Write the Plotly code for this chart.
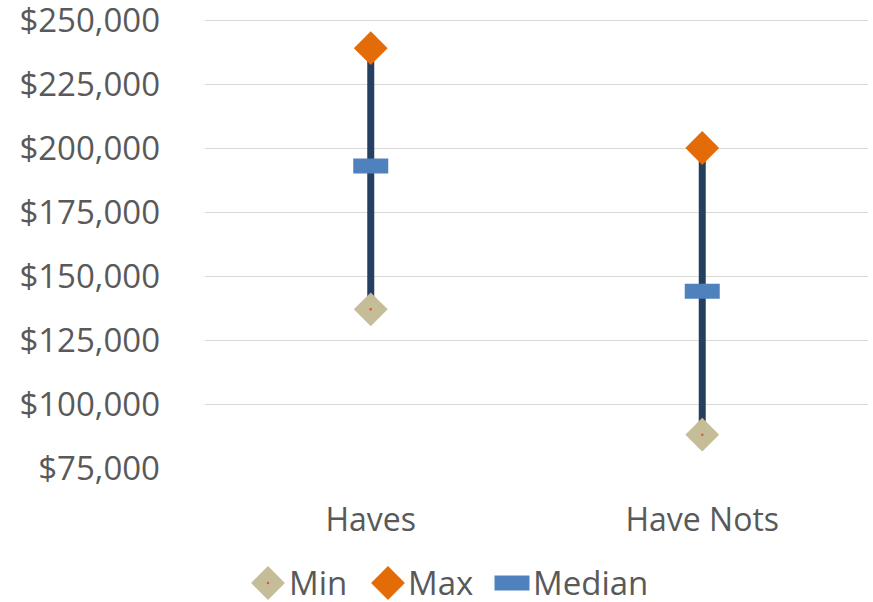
import plotly.graph_objects as go

# Salary ranges by group
categories = ["Haves", "Have Nots"]
min_values = [137000, 88000]
max_values = [239000, 200000]
median_values = [193000, 144000]

y_tickvals = [75000, 100000, 125000, 150000, 175000, 200000, 225000, 250000]
y_ticktext = ["$75,000", "$100,000", "$125,000", "$150,000", "$175,000",
              "$200,000", "$225,000", "$250,000"]

series_names = ["Min", "Max", "Median"]

W, H = 873, 602
FONT = "Open Sans"
TEXT_COLOR = "#595959"
MIN_COLOR = "#C4BD97"
MAX_COLOR = "#E36C09"
MED_COLOR = "#4F81BD"
BAR_COLOR = "#243F60"
DOT_COLOR = "#E8513C"

# value axis limits: a little headroom above the top gridline
Y_MIN, Y_MAX = 75000, 251000

# plot area and legend placement (pixels)
PLOT_L, PLOT_R, PLOT_B = 205, 868, 468
PX_PER_UNIT = 448 / (250000 - 75000)
PLOT_T = PLOT_B - (Y_MAX - Y_MIN) * PX_PER_UNIT
LEGEND_Y = 582
LEGEND_ICON_X = [268, 388, 512]
LEGEND_TEXT_X = [287, 406, 531]

diamond = dict(symbol="diamond", size=26, line=dict(width=0))
median_mark = dict(symbol="line-ew", size=25, line=dict(color=MED_COLOR, width=15))

fig = go.Figure()

# range bars from min to max
for cat, lo, hi in zip(categories, min_values, max_values):
    fig.add_trace(go.Scatter(
        x=[cat, cat], y=[lo, hi], mode="lines",
        line=dict(color=BAR_COLOR, width=7),
        showlegend=False, hoverinfo="skip",
    ))

fig.add_trace(go.Scatter(
    x=categories, y=min_values, mode="markers", name="Min", showlegend=False,
    marker=dict(diamond, color=MIN_COLOR),
))
fig.add_trace(go.Scatter(
    x=categories, y=min_values, mode="markers", showlegend=False,
    hoverinfo="skip", marker=dict(symbol="circle", size=2.5, color=DOT_COLOR),
))
fig.add_trace(go.Scatter(
    x=categories, y=max_values, mode="markers", name="Max", showlegend=False,
    marker=dict(diamond, color=MAX_COLOR),
))
fig.add_trace(go.Scatter(
    x=categories, y=median_values, mode="markers", name="Median",
    showlegend=False, marker=median_mark,
))

# legend keys, drawn on a pixel-scaled overlay axis
leg_y = [LEGEND_Y + 1] * 3
fig.add_trace(go.Scatter(
    x=LEGEND_ICON_X[:2], y=leg_y[:2], mode="markers", xaxis="x2", yaxis="y2",
    showlegend=False, hoverinfo="skip",
    marker=dict(diamond, color=[MIN_COLOR, MAX_COLOR]),
))
fig.add_trace(go.Scatter(
    x=LEGEND_ICON_X[:1], y=leg_y[:1], mode="markers", xaxis="x2", yaxis="y2",
    showlegend=False, hoverinfo="skip",
    marker=dict(symbol="circle", size=2.5, color=DOT_COLOR),
))
fig.add_trace(go.Scatter(
    x=LEGEND_ICON_X[2:], y=leg_y[2:], mode="markers", xaxis="x2", yaxis="y2",
    showlegend=False, hoverinfo="skip", marker=median_mark,
))

annotations = [
    dict(text=name, x=tx / W, y=1 - LEGEND_Y / H, xref="paper", yref="paper",
         xanchor="left", yanchor="middle", showarrow=False,
         font=dict(family=FONT, size=33, color=TEXT_COLOR))
    for name, tx in zip(series_names, LEGEND_TEXT_X)
]

fig.update_layout(
    width=W, height=H,
    margin=dict(l=0, r=0, t=0, b=0, autoexpand=False),
    plot_bgcolor="rgba(0,0,0,0)", paper_bgcolor="white",
    font=dict(family=FONT, size=32, color=TEXT_COLOR),
    showlegend=False,
    annotations=annotations,
    xaxis=dict(
        type="category", range=[-0.5, 1.5],
        domain=[PLOT_L / W, PLOT_R / W],
        showgrid=False, showline=False, zeroline=False,
        ticks="", ticklabelstandoff=30,
        tickfont=dict(size=32, color=TEXT_COLOR),
    ),
    yaxis=dict(
        range=[Y_MIN, Y_MAX], tickvals=y_tickvals, ticktext=y_ticktext,
        domain=[1 - PLOT_B / H, 1 - PLOT_T / H],
        showgrid=True, gridcolor="#D9D9D9", gridwidth=1,
        zeroline=False, showline=False, ticks="",
        ticklabelstandoff=44, ticklabeloverflow="allow",
        tickfont=dict(size=33, color=TEXT_COLOR),
    ),
    xaxis2=dict(domain=[0, 1], range=[0, W], anchor="y2", visible=False,
                fixedrange=True),
    yaxis2=dict(domain=[0, 1], range=[H, 0], anchor="x2", visible=False,
                fixedrange=True),
)

fig.write_html("out.html")
